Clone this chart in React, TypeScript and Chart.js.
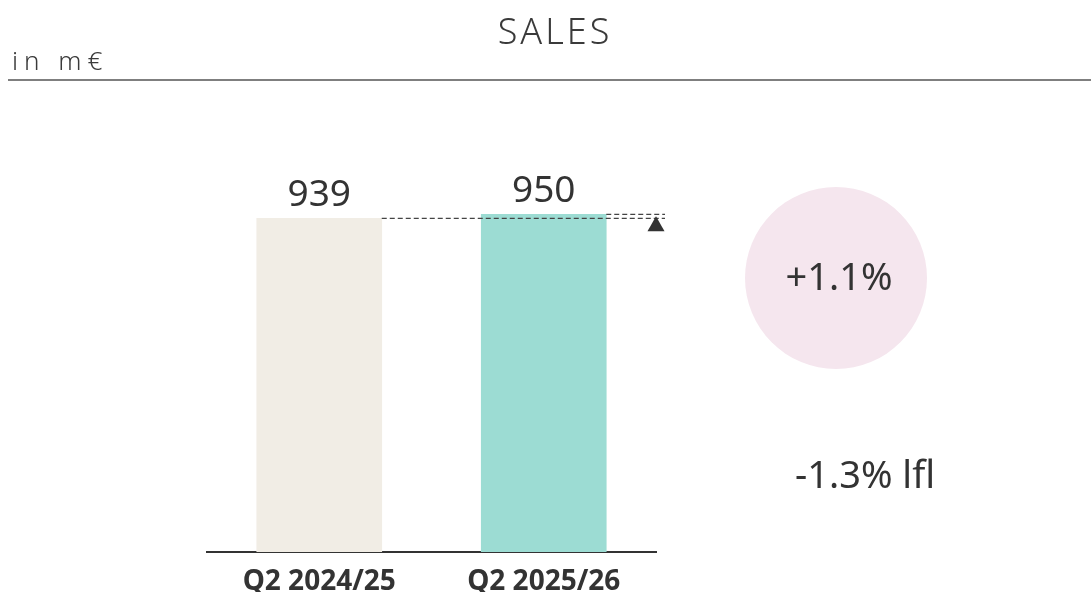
import React, { useEffect, useRef } from "react";
import { Chart, registerables } from "chart.js";

Chart.register(...registerables);

const categories = ["Q2 2024/25", "Q2 2025/26"];
const sales = [939, 950];
const barColors = ["#f1ede5", "#9cdcd3"];
const title = "SALES";
const unitLabel = "in m€";
const growthLabel = "+1.1%";
const lflLabel = "-1.3% lfl";

const FONT = "'Noto Sans', 'Open Sans', sans-serif";

const overlayPlugin = {
  id: "overlay",
  afterDatasetsDraw(chart: any) {
    const ctx = chart.ctx as CanvasRenderingContext2D;
    const meta = chart.getDatasetMeta(0);
    const y = chart.scales.y;
    ctx.save();
    // header
    ctx.fillStyle = "#3a3a3a";
    ctx.textAlign = "center";
    ctx.textBaseline = "alphabetic";
    ctx.font = `300 36px ${FONT}`;
    (ctx as any).letterSpacing = "3px";
    ctx.fillText(title, 555, 44);
    ctx.textAlign = "left";
    ctx.font = `300 26px ${FONT}`;
    (ctx as any).letterSpacing = "6px";
    ctx.fillText(unitLabel, 12, 70);
    (ctx as any).letterSpacing = "0px";
    ctx.strokeStyle = "#555";
    ctx.lineWidth = 1.5;
    ctx.beginPath();
    ctx.moveTo(8, 80);
    ctx.lineTo(1091, 80);
    ctx.stroke();

    // value labels
    ctx.textAlign = "center";
    ctx.font = `400 37px ${FONT}`;
    ctx.fillStyle = "#333";
    meta.data.forEach((bar: any, i: number) => {
      ctx.fillText(String(sales[i]), bar.x, bar.y - 12);
    });

    // dashed reference lines
    const b0 = meta.data[0];
    const b1 = meta.data[1];
    const y0 = y.getPixelForValue(sales[0]);
    const y1 = y.getPixelForValue(sales[1]);
    const endX = 665;
    ctx.strokeStyle = "#444";
    ctx.lineWidth = 1.2;
    ctx.setLineDash([5, 3]);
    ctx.beginPath();
    ctx.moveTo(b0.x + b0.width / 2, y0);
    ctx.lineTo(endX, y0);
    ctx.moveTo(b1.x + b1.width / 2, y1);
    ctx.lineTo(endX, y1);
    ctx.stroke();
    ctx.setLineDash([]);
    // triangle
    ctx.fillStyle = "#333";
    ctx.beginPath();
    ctx.moveTo(656, y0 - 2);
    ctx.lineTo(664.5, y0 + 13);
    ctx.lineTo(647.5, y0 + 13);
    ctx.closePath();
    ctx.fill();

    // circle
    ctx.fillStyle = "#f5e6ee";
    ctx.beginPath();
    ctx.arc(836, 278, 91, 0, Math.PI * 2);
    ctx.fill();
    ctx.fillStyle = "#333";
    ctx.textAlign = "center";
    ctx.font = `400 38px ${FONT}`;
    ctx.fillText(growthLabel, 839, 290);
    ctx.fillText(lflLabel, 865, 488);
    ctx.restore();
  },
};

export default function App() {
  const ref = useRef<HTMLCanvasElement>(null);
  useEffect(() => {
    if (!ref.current) return;
    const chart = new Chart(ref.current, {
      type: "bar",
      data: {
        labels: categories,
        datasets: [
          {
            data: sales,
            backgroundColor: barColors,
            borderWidth: 0,
            barThickness: 125,
          },
        ],
      },
      options: {
        responsive: false,
        animation: false,
        layout: { padding: { left: 207, right: 435, top: 90, bottom: 0 } },
        plugins: { legend: { display: false }, tooltip: { enabled: false } },
        scales: {
          x: {
            grid: { display: false, drawTicks: false },
            border: { display: true, color: "#333", width: 2 },
            ticks: {
              color: "#333",
              padding: 13,
              font: { family: FONT, size: 28, weight: "bold" },
            },
            afterFit: (s: any) => {
              s.height = 40;
            },
          },
          y: { display: false, min: 0, max: 1300 },
        },
      },
      plugins: [overlayPlugin],
    });
    return () => chart.destroy();
  }, []);
  return (
    <div style={{ position: "absolute", left: 0, top: 0, width: 1091, height: 592, background: "#fff" }}>
      <canvas ref={ref} width={1091} height={592} />
    </div>
  );
}
